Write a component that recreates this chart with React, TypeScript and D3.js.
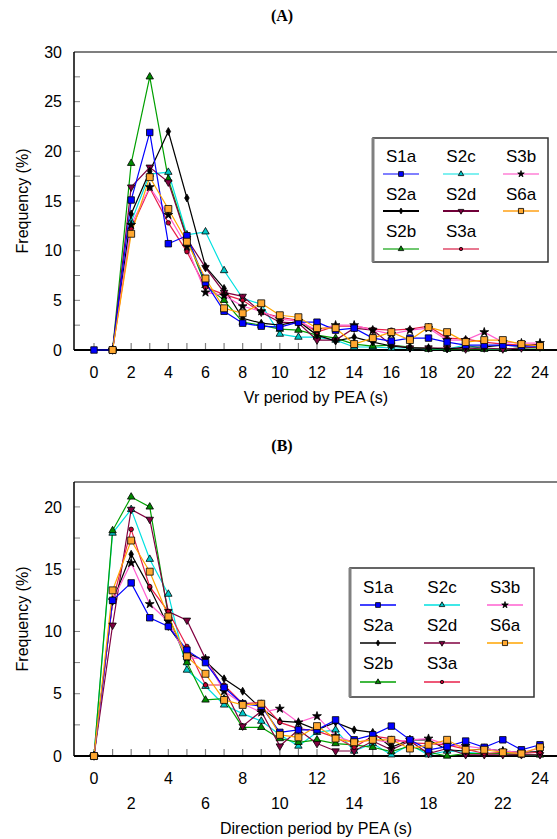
import React from "react";
import * as d3 from "d3";

// period bins (s)
const periods = [0, 1, 2, 3, 4, 5, 6, 7, 8, 9, 10, 11, 12, 13, 14, 15, 16, 17, 18, 19, 20, 21, 22, 23, 24];

// (A) Vr period by PEA
const vrS1a = [0, 0, 15.1, 21.9, 10.7, 11.5, 6.8, 3.9, 2.7, 2.4, 2.3, 2.8, 2.8, 2.0, 2.2, 1.2, 0.9, 1.2, 1.2, 0.8, 0.5, 0.5, 0.5, 0.4, 0.4];
const vrS2a = [null, 0, 13.7, 18.0, 22.0, 15.3, 8.4, 6.2, 3.2, 2.7, 2.5, 2.9, 1.5, 0.9, 1.3, 0.8, 0.4, 0.2, 0.2, 0.1, 0.3, 0.3, 0.5, 0.4, 0.6];
const vrS2b = [null, 0, 18.8, 27.5, 17.2, 11.3, 6.5, 5.0, 2.8, 2.5, 2.1, 2.0, 1.5, 1.2, 0.6, 0.4, 0.5, 0.3, 0.1, 0.1, 0.1, 0.1, 0.1, 0.2, 0.2];
const vrS2c = [null, 0, 12.9, 17.7, 17.9, 11.6, 11.9, 8.0, 5.2, 4.6, 1.6, 1.3, 1.3, 1.0, 0.3, 0.3, 0.2, 0.2, 0.1, 0.1, 0.5, 0.1, 0.1, 0.2, 0.3];
const vrS2d = [null, 0, 16.4, 18.4, 16.9, 11.2, 8.3, 5.8, 5.4, 3.8, 2.8, 2.7, 1.0, 1.0, 2.2, 2.0, 0.5, 0.2, 0.2, 0.2, 0.1, 0.2, 0.1, 0.2, 0.3];
const vrS3a = [null, 0, 12.2, 16.3, 12.8, 9.9, 6.3, 5.6, 5.0, 3.8, 3.3, 3.0, 1.8, 2.4, 2.4, 2.1, 2.0, 2.1, 2.4, 1.2, 1.1, 0.8, 0.6, 0.5, 0.5];
const vrS3b = [null, 0, 12.6, 16.4, 13.6, 10.4, 5.8, 5.5, 4.4, 3.9, 3.1, 2.9, 2.0, 2.5, 2.5, 2.0, 1.6, 2.0, 2.2, 1.0, 1.0, 1.8, 0.8, 0.7, 0.7];
const vrS6a = [null, 0, 11.7, 17.4, 14.2, 10.9, 7.2, 4.2, 3.7, 4.7, 3.5, 3.3, 2.2, 2.2, 0.6, 1.2, 1.8, 1.0, 2.3, 1.8, 0.8, 1.0, 1.0, 0.6, 0.4];

// (B) Direction period by PEA
const dirS1a = [0, 12.5, 13.9, 11.1, 10.4, 8.5, 7.5, 5.5, 4.2, 4.0, 1.9, 2.1, 2.1, 2.9, 1.3, 1.7, 2.4, 1.3, 0.5, 0.75, 1.2, 0.7, 1.3, 0.5, 0.9];
const dirS2a = [0, 12.4, 16.2, 13.5, 10.4, 8.3, 7.6, 6.2, 5.2, 3.8, 2.8, 2.7, 2.1, 2.7, 2.1, 1.9, 0.7, 1.3, 1.3, 0.5, 0.4, 0.6, 0.4, 0.3, 0.35];
const dirS2b = [0, 18.1, 20.8, 20.0, 11.3, 7.5, 4.5, 4.6, 2.3, 2.3, 1.4, 1.1, 1.3, 1.0, 0.9, 0.7, 0.35, 0.8, 0.3, 0.0, 0.2, 0.2, 0.2, 0.1, 0.1];
const dirS2c = [0, 17.9, 19.8, 15.8, 13.0, 6.9, 5.6, 4.1, 3.4, 2.8, 1.7, 0.8, 1.9, 2.1, 0.4, 1.0, 0.1, 0.9, 0.1, 0.4, 0.3, 0.2, 0.2, 0.1, 0.1];
const dirS2d = [0, 10.5, 19.8, 19.0, 11.6, 10.9, 7.8, 5.4, 2.4, 3.6, 0.8, 2.1, 1.0, 0.4, 0.4, 1.2, 0.5, 1.2, 0.2, 0.6, 0.1, 0.1, 0.1, 0.1, 0.1];
const dirS3a = [0, 12.4, 18.2, 13.6, 11.6, 8.8, 5.7, 5.7, 4.2, 4.3, 2.7, 2.2, 2.0, 1.5, 0.7, 1.6, 1.4, 1.05, 1.0, 0.9, 0.55, 0.2, 0.3, 0.2, 0.3];
const dirS3b = [0, 12.5, 15.5, 12.2, 10.8, 7.9, 7.8, 5.2, 4.2, 3.5, 3.8, 2.7, 3.2, 1.6, 1.1, 1.3, 1.1, 1.3, 1.4, 0.9, 0.8, 0.6, 0.4, 0.3, 0.6];
const dirS6a = [0, 13.3, 17.3, 14.8, 11.2, 8.0, 6.6, 4.5, 4.1, 4.2, 1.7, 1.5, 2.4, 1.4, 1.1, 1.3, 1.3, 0.6, 0.9, 1.3, 0.5, 0.5, 0.3, 0.2, 0.7];

const xTickLabels = [0, 2, 4, 6, 8, 10, 12, 14, 16, 18, 20, 22, 24];

type Style = {
  name: string;
  line: string;
  light: string;
  fill: string;
  symbol: d3.SymbolType;
  size: number;
  rotate?: number;
};

const styles: Record<string, Style> = {
  S1a: { name: "S1a", line: "#0000ff", light: "#8080ff", fill: "#0000ff", symbol: d3.symbolSquare, size: 42 },
  S2a: { name: "S2a", line: "#000000", light: "#000000", fill: "#000000", symbol: d3.symbolDiamond, size: 18 },
  S2b: { name: "S2b", line: "#00a000", light: "#70c870", fill: "#008a00", symbol: d3.symbolTriangle, size: 24 },
  S2c: { name: "S2c", line: "#00e0e0", light: "#80f0f0", fill: "#00c8c8", symbol: d3.symbolTriangle, size: 24 },
  S2d: { name: "S2d", line: "#800040", light: "#700038", fill: "#800040", symbol: d3.symbolTriangle, size: 24, rotate: 180 },
  S3a: { name: "S3a", line: "#e8204a", light: "#e87890", fill: "#c00030", symbol: d3.symbolCircle, size: 16 },
  S3b: { name: "S3b", line: "#ff60d0", light: "#ffa0e0", fill: "#000000", symbol: d3.symbolStar, size: 24 },
  S6a: { name: "S6a", line: "#ffa500", light: "#ffb850", fill: "#ffa830", symbol: d3.symbolSquare, size: 48 },
};

const drawOrder = ["S2c", "S2b", "S2d", "S2a", "S3a", "S3b", "S1a", "S6a"];
const legendGrid = [
  ["S1a", "S2c", "S3b"],
  ["S2a", "S2d", "S6a"],
  ["S2b", "S3a", null],
];

const seriesA: Record<string, (number | null)[]> = {
  S1a: vrS1a, S2a: vrS2a, S2b: vrS2b, S2c: vrS2c, S2d: vrS2d, S3a: vrS3a, S3b: vrS3b, S6a: vrS6a,
};
const seriesB: Record<string, (number | null)[]> = {
  S1a: dirS1a, S2a: dirS2a, S2b: dirS2b, S2c: dirS2c, S2d: dirS2d, S3a: dirS3a, S3b: dirS3b, S6a: dirS6a,
};

const FONT = "Liberation Sans, Arial, sans-serif";

const Marker = ({ st, x, y, scale = 1 }: { st: Style; x: number; y: number; scale?: number }) => {
  const path = d3.symbol().type(st.symbol).size(st.size * scale)() || "";
  return (
    <path
      d={path}
      transform={`translate(${x},${y}) rotate(${st.rotate || 0})`}
      fill={st.fill}
      stroke="#000"
      strokeWidth={0.8}
    />
  );
};

type PanelProps = {
  title: string;
  titleY: number;
  top: number;
  bottom: number;
  yMax: number;
  yTicks: number[];
  data: Record<string, (number | null)[]>;
  xTitle: string;
  staggered: boolean;
  legend: { x0: number; x1: number; y0: number; y1: number; cols: number[]; textRows: number[]; lineRows: number[]; light: boolean };
};

const Panel = ({ title, titleY, top, bottom, yMax, yTicks, data, xTitle, staggered, legend }: PanelProps) => {
  const left = 74;
  const right = 560;
  const x = d3.scaleLinear().domain([0, 24]).range([94, 540]);
  const y = d3.scaleLinear().domain([0, yMax]).range([bottom, top]);
  const minor = d3.range(0, yMax + 0.01, 2.5);
  const line = d3
    .line<number | null>()
    .defined((d) => d !== null)
    .x((_, i) => x(periods[i]))
    .y((d) => y(d as number));

  return (
    <g>
      <text x={282} y={titleY} textAnchor="middle" fontFamily="Liberation Serif, Times New Roman, serif" fontWeight="bold" fontSize={16}>
        {title}
      </text>
      {/* frame */}
      <line x1={left} x2={right} y1={top} y2={top} stroke="#000" strokeWidth={1.2} />
      {/* y ticks */}
      {minor.map((t) => (
        <line key={"ym" + t} x1={left} x2={left + 6} y1={y(t)} y2={y(t)} stroke="#808080" strokeWidth={1} />
      ))}
      {yTicks.map((t) => (
        <text key={"yl" + t} x={62} y={y(t)} dy="0.35em" textAnchor="end" fontFamily={FONT} fontSize={16}>
          {t}
        </text>
      ))}
      {/* x ticks */}
      {periods.map((p) => (
        <line key={"xt" + p} x1={x(p)} x2={x(p)} y1={bottom} y2={bottom - 7} stroke="#808080" strokeWidth={1.2} />
      ))}
      {xTickLabels.map((t, i) => (
        <text
          key={"xl" + t}
          x={x(t)}
          y={staggered && i % 2 === 1 ? bottom + 47 : bottom + 22}
          dy="0.35em"
          textAnchor="middle"
          fontFamily={FONT}
          fontSize={16}
        >
          {t}
        </text>
      ))}
      <line x1={left} x2={left} y1={top} y2={bottom} stroke="#000" strokeWidth={1.5} />
      <line x1={left} x2={right} y1={bottom} y2={bottom} stroke="#000" strokeWidth={2} />
      <text
        transform={`translate(22,${(top + bottom) / 2}) rotate(-90)`}
        textAnchor="middle"
        dy="0.35em"
        fontFamily={FONT}
        fontSize={16}
      >
        Frequency (%)
      </text>
      <text x={316} y={staggered ? bottom + 72 : bottom + 47} dy="0.35em" textAnchor="middle" fontFamily={FONT} fontSize={16}>
        {xTitle}
      </text>
      {/* series */}
      {drawOrder.map((k) => (
        <path key={"l" + k} d={line(data[k]) || ""} fill="none" stroke={styles[k].line} strokeWidth={1.2} />
      ))}
      {drawOrder.map((k) => (
        <g key={"m" + k}>
          {data[k].map((v, i) =>
            v === null ? null : <Marker key={i} st={styles[k]} x={x(periods[i])} y={y(v)} />
          )}
        </g>
      ))}
      {/* legend */}
      <rect x={legend.x0} y={legend.y0} width={legend.x1 - legend.x0} height={legend.y1 - legend.y0} fill="#fff" stroke="#333" strokeWidth={1.5} />
      <line x1={legend.x0} x2={legend.x0} y1={legend.y0} y2={legend.y1} stroke="#808080" strokeWidth={3} />
      {legendGrid.map((row, r) =>
        row.map((k, c) => {
          if (!k) return null;
          const st = styles[k];
          const cx = legend.cols[c];
          return (
            <g key={"lg" + k}>
              <text x={cx} y={legend.textRows[r]} dy="0.35em" textAnchor="middle" fontFamily={FONT} fontSize={17}>
                {st.name}
              </text>
              <line
                x1={cx - 18}
                x2={cx + 18}
                y1={legend.lineRows[r]}
                y2={legend.lineRows[r]}
                stroke={legend.light ? st.light : st.line}
                strokeWidth={legend.light ? 2 : 1.4}
              />
              <Marker st={st} x={cx} y={legend.lineRows[r]} scale={0.55} />
            </g>
          );
        })
      )}
    </g>
  );
};

export default function App() {
  return (
    <svg width={557} height={839} style={{ position: "absolute", left: 0, top: 0, background: "#fff" }}>
      <Panel
        title="(A)"
        titleY={21}
        top={52}
        bottom={350}
        yMax={30}
        yTicks={[0, 5, 10, 15, 20, 25, 30]}
        data={seriesA}
        xTitle="Vr period by PEA (s)"
        staggered={false}
        legend={{ x0: 373, x1: 548, y0: 138, y1: 262, cols: [401, 461, 521], textRows: [156, 194, 231], lineRows: [174, 211, 249], light: true }}
      />
      <Panel
        title="(B)"
        titleY={451}
        top={482}
        bottom={756}
        yMax={22}
        yTicks={[0, 5, 10, 15, 20]}
        data={seriesB}
        xTitle="Direction period by PEA (s)"
        staggered={true}
        legend={{ x0: 350, x1: 534, y0: 568, y1: 697, cols: [378, 442, 505], textRows: [587, 625, 663], lineRows: [605, 643, 682], light: false }}
      />
    </svg>
  );
}
